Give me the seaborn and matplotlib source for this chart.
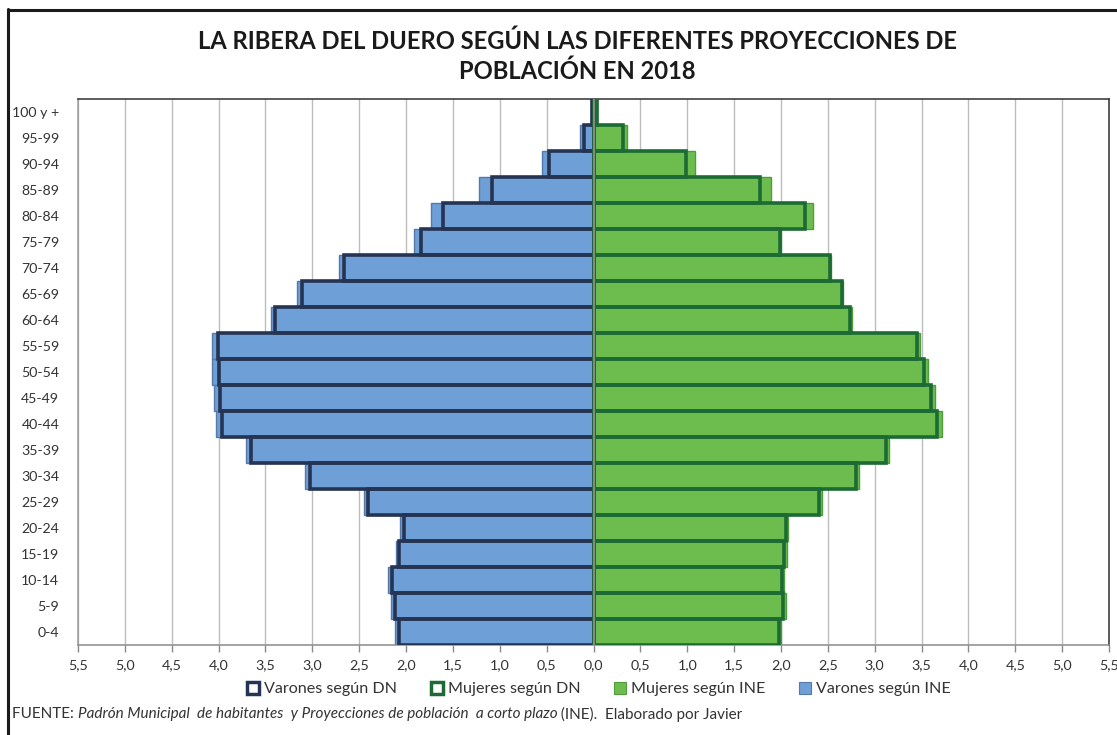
import matplotlib
matplotlib.use("Agg")
import matplotlib.pyplot as plt
from matplotlib.patches import Patch
from matplotlib.lines import Line2D
import seaborn as sns
import pandas as pd
import numpy as np

# Age groups, top to bottom
grupos = ["100 y +", "95-99", "90-94", "85-89", "80-84", "75-79", "70-74",
          "65-69", "60-64", "55-59", "50-54", "45-49", "40-44", "35-39",
          "30-34", "25-29", "20-24", "15-19", "10-14", "5-9", "0-4"]

# Share of population (%) by sex and source
varones_ine = [0.00, 0.14, 0.55, 1.22, 1.73, 1.91, 2.71, 3.16, 3.44, 4.07, 4.07,
               4.05, 4.03, 3.71, 3.08, 2.45, 2.06, 2.11, 2.19, 2.16, 2.12]
varones_dn = [0.02, 0.10, 0.47, 1.08, 1.61, 1.84, 2.66, 3.11, 3.40, 4.01, 4.00,
              3.98, 3.96, 3.65, 3.03, 2.41, 2.02, 2.07, 2.15, 2.12, 2.08]
mujeres_ine = [0.04, 0.36, 1.08, 1.89, 2.34, 2.00, 2.53, 2.66, 2.76, 3.48, 3.57,
               3.64, 3.72, 3.15, 2.83, 2.44, 2.08, 2.06, 2.03, 2.05, 2.00]
mujeres_dn = [0.04, 0.31, 0.99, 1.78, 2.26, 1.99, 2.52, 2.65, 2.74, 3.45, 3.53,
              3.60, 3.66, 3.12, 2.80, 2.41, 2.05, 2.03, 2.01, 2.02, 1.98]

xticks = np.arange(-5.5, 5.51, 0.5)
xtick_labels = [f"{abs(v):.1f}".replace(".", ",") for v in xticks]

titulo = "LA RIBERA DEL DUERO SEGÚN LAS DIFERENTES PROYECCIONES DE\nPOBLACIÓN EN 2018"
leyenda = ["Varones según DN", "Mujeres según DN", "Mujeres según INE", "Varones según INE"]

AZUL = "#6e9fd6"
AZUL_BORDE = "#5679ab"
VERDE = "#6dbd4e"
VERDE_BORDE = "#519c3c"
NAVY = "#253452"
VERDE_OSC = "#1c6a34"

sns.set_style("white")
plt.rcParams["font.family"] = ["Lato", "DejaVu Sans"]

W, H = 1117, 735
fig = plt.figure(figsize=(W / 100, H / 100), dpi=100)
ax = fig.add_axes([78 / W, 1 - 645 / H, (1109 - 78) / W, (645 - 99) / H])

df = pd.DataFrame({
    "grupo": grupos,
    "v_ine": -np.array(varones_ine),
    "v_dn": -np.array(varones_dn),
    "m_ine": mujeres_ine,
    "m_dn": mujeres_dn,
})

for v in xticks:
    ax.axvline(v, color="#bdbdbd", lw=1.0, zorder=0)

sns.barplot(data=df, x="v_ine", y="grupo", order=grupos, orient="h", color=AZUL,
            width=1.0, edgecolor=AZUL_BORDE, linewidth=1.0, saturation=1, ax=ax, zorder=2)
sns.barplot(data=df, x="m_ine", y="grupo", order=grupos, orient="h", color=VERDE,
            width=1.0, edgecolor=VERDE_BORDE, linewidth=1.0, saturation=1, ax=ax, zorder=2)
sns.barplot(data=df, x="v_dn", y="grupo", order=grupos, orient="h", color=NAVY,
            width=1.0, fill=False, linewidth=2.6, saturation=1, ax=ax, zorder=3)
sns.barplot(data=df, x="m_dn", y="grupo", order=grupos, orient="h", color=VERDE_OSC,
            width=1.0, fill=False, linewidth=2.6, saturation=1, ax=ax, zorder=3)

ax.axvline(0, color="#8a8a8a", lw=1.4, zorder=4)

ax.set_xlim(-5.5, 5.5)
ax.set_ylim(len(grupos) - 0.5, -0.5)
ax.set_xticks(xticks)
ax.set_xticklabels(xtick_labels)
ax.set_xlabel("")
ax.set_ylabel("")
ax.tick_params(axis="x", which="both", bottom=True, length=5, width=1,
               color="#8a8a8a", labelsize=10.3, labelcolor="#333333", pad=5)
ax.tick_params(axis="y", left=False, labelsize=10.2, labelcolor="#333333", pad=10)

for side in ["top", "right", "left"]:
    ax.spines[side].set_color("#303030")
    ax.spines[side].set_linewidth(1.1)
ax.spines["left"].set_color("#9a9a9a")
ax.spines["bottom"].set_color("#8a8a8a")
ax.spines["bottom"].set_linewidth(1.1)

fig.text(577 / W, 1 - 56 / H, titulo, ha="center", va="center", fontsize=17.1,
         fontweight="bold", color="#1a1a1a", linespacing=1.32)

handles = [
    Patch(facecolor="white", edgecolor=NAVY, linewidth=2.5),
    Patch(facecolor="white", edgecolor=VERDE_OSC, linewidth=2.5),
    Patch(facecolor=VERDE, edgecolor=VERDE_BORDE, linewidth=0.8),
    Patch(facecolor=AZUL, edgecolor=AZUL_BORDE, linewidth=0.8),
]
fig.legend(handles, leyenda, loc="center", bbox_to_anchor=(599 / W, 1 - 689 / H),
           ncol=4, frameon=False, fontsize=11.6, handlelength=0.75, handleheight=0.75,
           handletextpad=0.3, columnspacing=2.1, labelcolor="#333333")

# Source line with an italic middle part
partes = [("FUENTE: ", "normal"),
          ("Padrón Municipal  de habitantes  y Proyecciones de población  a corto plazo", "italic"),
          (" (INE).  Elaborado por Javier", "normal")]
fig.canvas.draw()
renderer = fig.canvas.get_renderer()
x0 = 12 / W
for texto, estilo in partes:
    t = fig.text(x0, 1 - 714 / H, texto, ha="left", va="center", fontsize=11,
                 style=estilo, color="#333333")
    bb = t.get_window_extent(renderer=renderer)
    x0 += bb.width / W

# Chart frame
fig.add_artist(Line2D([7.5 / W, 7.5 / W], [1 - 9 / H, 0], color="#1a1a1a", lw=2.2,
                      transform=fig.transFigure))
fig.add_artist(Line2D([7.5 / W, 1], [1 - 9.5 / H, 1 - 9.5 / H], color="#1a1a1a", lw=2.2,
                      transform=fig.transFigure))

fig.savefig("out.png", dpi=100)
